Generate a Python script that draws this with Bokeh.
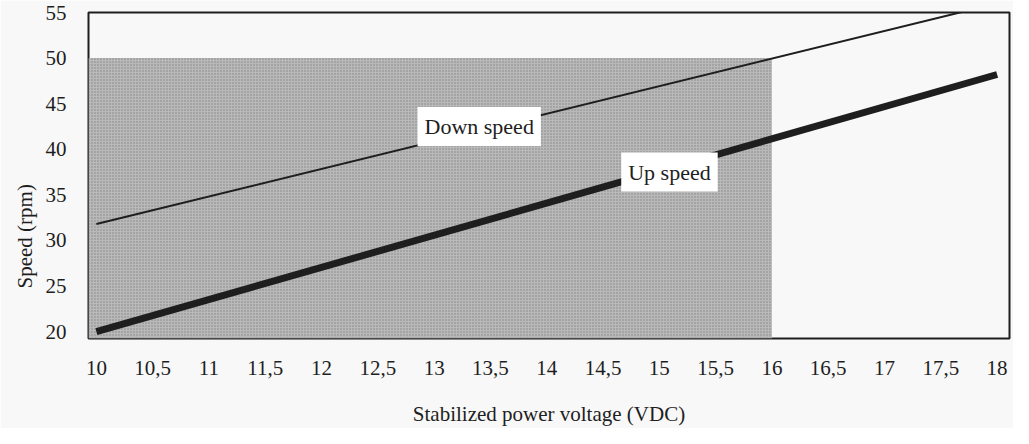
from bokeh.plotting import figure
from bokeh.models import Range1d, FixedTicker, Label, Title
from bokeh.embed import file_html
from bokeh.resources import INLINE

# ---- data ----
voltage = [10, 18]
down_speed = [31.8, 56.0]
up_speed = [20.0, 48.2]

shade_voltage_max = 16
shade_speed_max = 50

x_ticks = [10, 10.5, 11, 11.5, 12, 12.5, 13, 13.5, 14, 14.5, 15, 15.5, 16, 16.5, 17, 17.5, 18]
x_tick_labels = ["10", "10,5", "11", "11,5", "12", "12,5", "13", "13,5", "14",
                 "14,5", "15", "15,5", "16", "16,5", "17", "17,5", "18"]
y_ticks = [20, 25, 30, 35, 40, 45, 50, 55]

x_title = "Stabilized power voltage (VDC)"
y_title = "Speed (rpm)"

# ---- figure ----
FONT = "Liberation Serif"
BG = "#f8f8f8"
INK = "#1e1e1e"

x_lo, x_hi = 9.93, 18.11
y_lo, y_hi = 19.25, 55.0

p = figure(width=1013, height=428, output_backend="svg", toolbar_location=None,
           x_range=Range1d(x_lo, x_hi), y_range=Range1d(y_lo, y_hi),
           min_border_left=88, min_border_right=4, min_border_top=12, min_border_bottom=88)
p.background_fill_color = BG
p.border_fill_color = BG
p.outline_line_color = INK
p.outline_line_width = 2
p.grid.visible = False

# operating area shading
p.quad(left=[x_lo], right=[shade_voltage_max], bottom=[y_lo], top=[shade_speed_max],
       fill_color="#b9b9b9", line_color=None,
       hatch_pattern="dot", hatch_color="#858585", hatch_scale=3, hatch_weight=1)

# lines
p.line(voltage, down_speed, line_color=INK, line_width=2)
p.line(voltage, up_speed, line_color=INK, line_width=7)

# line labels
for txt, xv, yv in [("Down speed", 13.40, 42.5), ("Up speed", 15.09, 37.5)]:
    p.add_layout(Label(x=xv, y=yv, text=txt, text_align="center", text_baseline="middle",
                       text_font=FONT, text_font_size="22px", text_color=INK,
                       background_fill_color="white", padding=7))

# axes
for ax in (p.xaxis[0], p.yaxis[0]):
    ax.axis_line_color = None
    ax.major_tick_line_color = None
    ax.minor_tick_line_color = None
    ax.major_tick_out = 0
    ax.major_label_text_font = FONT
    ax.major_label_text_font_size = "21px"
    ax.major_label_text_color = INK
    ax.major_label_standoff = 22

p.xaxis.ticker = FixedTicker(ticks=x_ticks)
p.xaxis.major_label_overrides = {t: lbl for t, lbl in zip(x_ticks, x_tick_labels)}
p.xaxis.axis_label = x_title
p.xaxis.axis_label_text_font = FONT
p.xaxis.axis_label_text_font_size = "21px"
p.xaxis.axis_label_text_font_style = "normal"
p.xaxis.axis_label_text_color = INK
p.xaxis.axis_label_standoff = 24

p.yaxis.ticker = FixedTicker(ticks=y_ticks)
p.add_layout(Title(text=y_title, align="left", offset=50, text_font=FONT,
                   text_font_size="21px", text_font_style="normal", text_color=INK,
                   standoff=12), "left")

open("out.html", "w").write(file_html(p, INLINE))
